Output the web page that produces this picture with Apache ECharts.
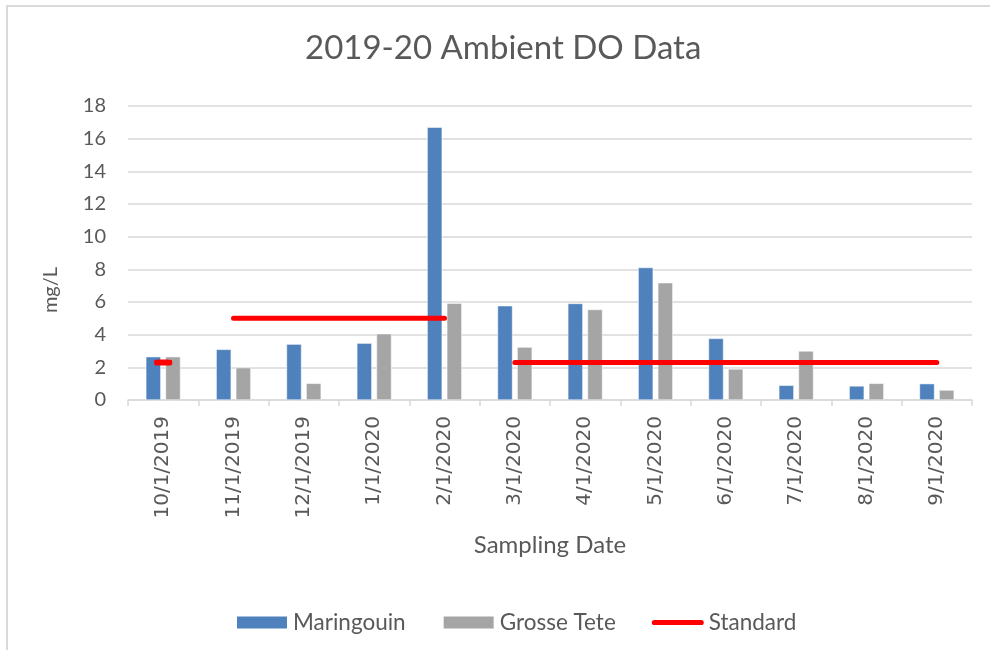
<!DOCTYPE html>
<html>
<head>
<meta charset="utf-8">
<script src="https://cdn.jsdelivr.net/npm/echarts@6/dist/echarts.min.js"></script>
<style>
html,body{margin:0;padding:0;background:#fff;}
#c{width:990px;height:650px;}
</style>
</head>
<body>
<div id="c"></div>
<script>
var categories = ['10/1/2019','11/1/2019','12/1/2019','1/1/2020','2/1/2020','3/1/2020','4/1/2020','5/1/2020','6/1/2020','7/1/2020','8/1/2020','9/1/2020'];
var maringouin = [2.65, 3.1, 3.42, 3.48, 16.7, 5.77, 5.91, 8.11, 3.77, 0.9, 0.86, 1.0];
var grosseTete = [2.65, 1.98, 1.02, 4.06, 5.93, 3.24, 5.54, 7.18, 1.9, 3.0, 1.02, 0.61];
var standardA = [2.3, null, null, null, null, null, null, null, null, null, null, null];
var standardB = [null, 5, 5, 5, 5, null, null, null, null, null, null, null];
var standardC = [null, null, null, null, null, 2.3, 2.3, 2.3, 2.3, 2.3, 2.3, 2.3];
var yTicks = [0, 2, 4, 6, 8, 10, 12, 14, 16, 18];

var chart = echarts.init(document.getElementById('c'), null, {renderer: 'canvas'});
var txt = '#595959';
var font = 'Lato';
chart.setOption({
  animation: false,
  backgroundColor: '#fff',
  title: {
    text: '2019-20 Ambient DO Data',
    left: 300,
    top: 27,
    textStyle: {fontFamily: font, fontSize: 33, fontWeight: 'normal', color: txt}
  },
  graphic: [
    {type: 'rect', shape: {x: 7, y: 6, width: 1000, height: 700}, style: {fill: 'none', stroke: '#D9D9D9', lineWidth: 2}, silent: true},
    {type: 'text', x: 51, y: 290, rotation: Math.PI / 2, style: {text: 'mg/L', fontSize: 20, fontFamily: font, fill: txt, textAlign: 'center', textVerticalAlign: 'middle'}}
  ],
  legend: {
    top: 606,
    left: 230,
    itemWidth: 52,
    itemHeight: 14,
    itemGap: 36,
    textStyle: {fontFamily: font, fontSize: 22.5, color: txt},
    data: [
      {name: 'Maringouin', icon: 'rect'},
      {name: 'Grosse Tete', icon: 'rect'},
      {name: 'Standard', icon: 'path://M3,0 H57 A3,3 0 0 1 57,6 H3 A3,3 0 0 1 3,0 Z', itemStyle: {color: '#FF0000'}}
    ]
  },
  grid: {left: 128, right: 18, top: 106, bottom: 250, containLabel: false},
  xAxis: {
    type: 'category',
    data: categories,
    boundaryGap: true,
    name: 'Sampling Date',
    nameLocation: 'middle',
    nameGap: 133,
    nameTextStyle: {fontFamily: font, fontSize: 24, color: txt},
    axisLine: {lineStyle: {color: '#D9D9D9', width: 1.5}},
    axisTick: {show: true, length: 6, lineStyle: {color: '#D9D9D9', width: 1.5}},
    axisLabel: {rotate: 90, margin: 16, fontFamily: 'DejaVu Sans', fontSize: 20, color: txt, interval: 0}
  },
  yAxis: {
    type: 'value',
    min: yTicks[0],
    max: yTicks[yTicks.length - 1],
    interval: 2,
    axisLine: {show: false},
    axisTick: {show: false},
    splitLine: {lineStyle: {color: '#D9D9D9', width: 1.5}},
    axisLabel: {margin: 22, fontFamily: font, fontSize: 20, color: txt}
  },
  series: [
    {name: 'Maringouin', type: 'bar', data: maringouin, barWidth: 15, barGap: '31%', itemStyle: {color: '#4F81BD', borderColor: '#fff', borderWidth: 0.5}},
    {name: 'Grosse Tete', type: 'bar', data: grosseTete, barWidth: 15, barGap: '31%', itemStyle: {color: '#A5A5A5', borderColor: '#fff', borderWidth: 0.5}},
    {name: 'Standard', type: 'line', data: standardA, symbol: 'roundRect', symbolSize: [18, 6], showSymbol: true, itemStyle: {color: '#FF0000'}, lineStyle: {color: '#FF0000', width: 5}, z: 5},
    {name: 'Standard', type: 'line', data: standardB, symbol: 'none', itemStyle: {color: '#FF0000'}, lineStyle: {color: '#FF0000', width: 5, cap: 'round'}, z: 5},
    {name: 'Standard', type: 'line', data: standardC, symbol: 'none', itemStyle: {color: '#FF0000'}, lineStyle: {color: '#FF0000', width: 5, cap: 'round'}, z: 5}
  ]
});
</script>
</body>
</html>
